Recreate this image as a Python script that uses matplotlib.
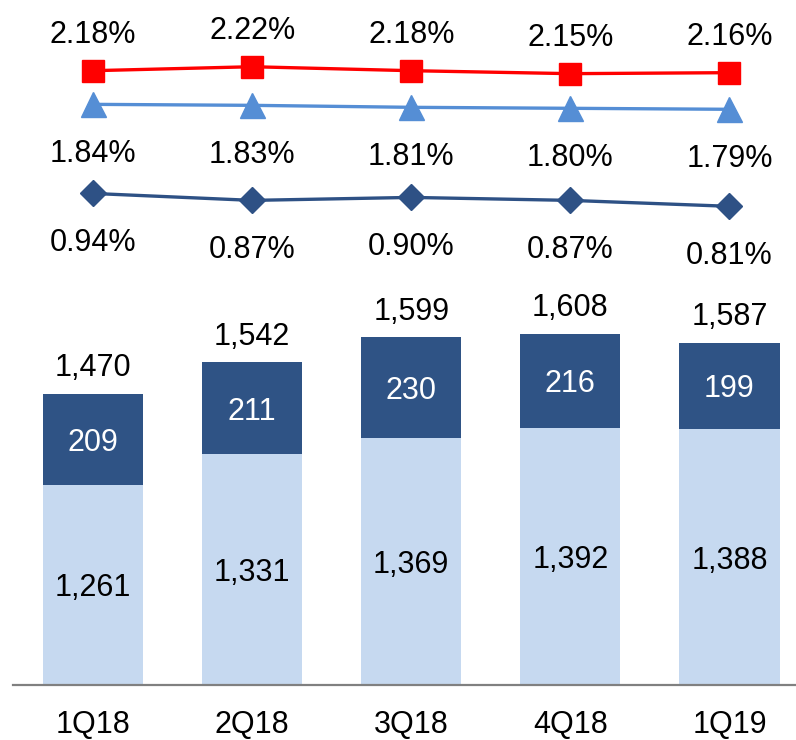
import numpy as np
import matplotlib
matplotlib.use("Agg")
import matplotlib.pyplot as plt

plt.rcParams['font.family'] = ['Liberation Sans', 'DejaVu Sans']

quarters = ["1Q18", "2Q18", "3Q18", "4Q18", "1Q19"]
base = [1261, 1331, 1369, 1392, 1388]
upper = [209, 211, 230, 216, 199]
total = [1470, 1542, 1599, 1608, 1587]

rate_red = [2.18, 2.22, 2.18, 2.15, 2.16]
rate_tri = [1.84, 1.83, 1.81, 1.80, 1.79]
rate_dia = [0.94, 0.87, 0.90, 0.87, 0.81]

c_light = "#c6d9f0"
c_dark = "#2f5385"
c_red = "#ff0000"
c_tri = "#558ed5"
c_dia = "#2e5185"
fs = 22
dy = -2.5  # nudge so digits sit visually centred

fig = plt.figure(figsize=(7.96, 7.40), dpi=100)
ax = fig.add_axes([13/796, 55/740, 1 - 13/796, 685/740])

x = np.arange(len(quarters))
ymin = 800
ax.bar(x, np.array(base) - ymin, bottom=ymin, width=0.63, color=c_light)
ax.bar(x, upper, bottom=base, width=0.63, color=c_dark)
ax.set_ylim(ymin, 2375)
ax.set_xlim(-0.503, 4.418)

for i in range(len(x)):
    ax.annotate(f"{base[i]:,}", (x[i], (ymin + base[i]) / 2), xytext=(0, dy),
                textcoords="offset points", ha="center", va="center", fontsize=fs)
    ax.annotate(f"{upper[i]:,}", (x[i], base[i] + upper[i] / 2), xytext=(0, dy),
                textcoords="offset points", ha="center", va="center", fontsize=fs,
                color="white")
    ax.annotate(f"{total[i]:,}", (x[i], base[i] + upper[i]), xytext=(0, 21 + dy),
                textcoords="offset points", ha="center", va="center", fontsize=fs)

ax.set_xticks(x)
ax.set_xticklabels(quarters, fontsize=fs)
ax.tick_params(axis="x", length=0, pad=18)
ax.set_yticks([])
for s in ["top", "left", "right"]:
    ax.spines[s].set_visible(False)
ax.spines["bottom"].set_color("#808080")
ax.spines["bottom"].set_linewidth(1.6)

# rates on a second axis
ax2 = ax.twinx()
ax2.set_ylim(-4.025, 2.894)
ax2.set_yticks([])
for s in ax2.spines.values():
    s.set_visible(False)

ax2.plot(x, rate_red, color=c_red, lw=2.4, marker="s", ms=15.5)
ax2.plot(x, rate_tri, color=c_tri, lw=2.4, marker="^", ms=18)
ax2.plot(x, rate_dia, color=c_dia, lw=2.4, marker="D", ms=13.5)

for i in range(len(x)):
    ax2.annotate(f"{rate_red[i]:.2f}%", (x[i], rate_red[i]), xytext=(0, 26),
                 textcoords="offset points", ha="center", va="center", fontsize=fs)
    ax2.annotate(f"{rate_tri[i]:.2f}%", (x[i], rate_tri[i]), xytext=(0, -33 + dy),
                 textcoords="offset points", ha="center", va="center", fontsize=fs)
    ax2.annotate(f"{rate_dia[i]:.2f}%", (x[i], rate_dia[i]), xytext=(0, -33.5 + dy),
                 textcoords="offset points", ha="center", va="center", fontsize=fs)

fig.savefig("out.png", dpi=100)
